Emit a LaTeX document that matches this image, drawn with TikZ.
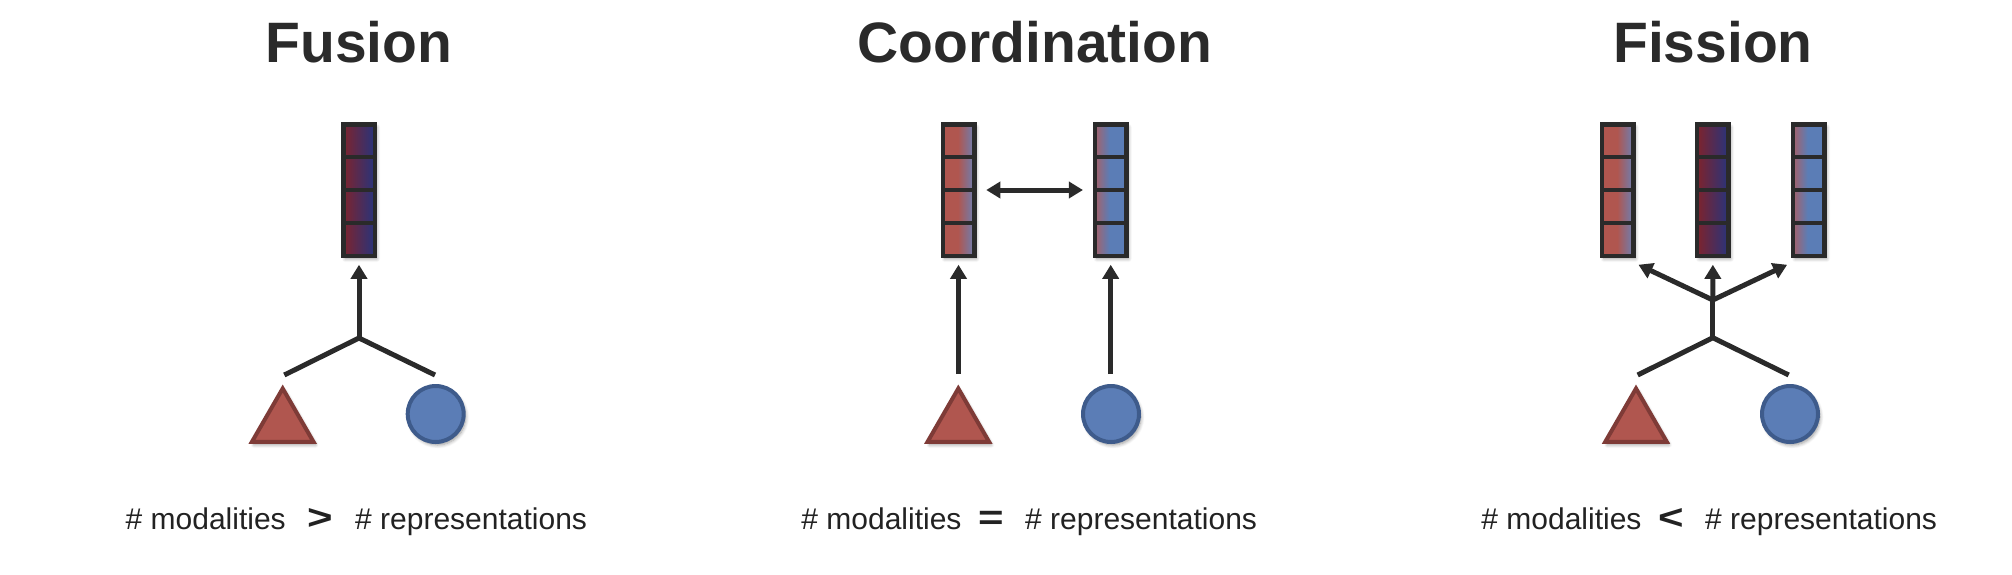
\documentclass[tikz,border=0pt]{standalone}
\usepackage{fontspec}
\usepackage{graphicx}
\setmainfont{Liberation Sans}
\usetikzlibrary{arrows.meta,shapes.geometric,shadows.blur,calc}
\definecolor{ink}{HTML}{2A2A2A}
\definecolor{txt}{HTML}{222222}
\definecolor{trifill}{HTML}{B0564F}
\definecolor{triline}{HTML}{7E3B37}
\definecolor{cirfill}{HTML}{5B7DB6}
\definecolor{cirline}{HTML}{3E5B8B}
\definecolor{dred}{HTML}{7A2430}
\definecolor{dblue}{HTML}{2B3378}
\definecolor{mred}{HTML}{B0564F}
\definecolor{mblue}{HTML}{5B7DB6}
\definecolor{pblue}{HTML}{6C7FB2}
\definecolor{rblue}{HTML}{A4616A}
\pgfdeclarehorizontalshading{fused}{100bp}{color(0bp)=(dred); color(27bp)=(dred); color(73bp)=(dblue); color(100bp)=(dblue)}
\pgfdeclarehorizontalshading{redish}{100bp}{color(0bp)=(mred); color(49bp)=(mred); color(75bp)=(pblue); color(100bp)=(pblue)}
\pgfdeclarehorizontalshading{blueish}{100bp}{color(0bp)=(rblue); color(25bp)=(rblue); color(48bp)=(mblue); color(100bp)=(mblue)}
\newcommand{\widesym}[1]{\scalebox{1.25}[1.0]{#1}}
\tikzset{
  shad/.style={blur shadow={shadow xshift=2pt, shadow yshift=-3pt, shadow blur radius=3.5pt, shadow blur steps=6, shadow opacity=40}},
  vec/.style={draw=ink, line width=4.5pt, minimum width=31.5pt, minimum height=131.5pt, inner sep=0pt, outer sep=0pt, shad,
    path picture={\foreach \k in {1,2,3}{\draw[ink, line width=4.5pt] ([yshift=-\k*32.875pt]path picture bounding box.north west) -- ([yshift=-\k*32.875pt]path picture bounding box.north east);}}},
  tri/.style={regular polygon, regular polygon sides=3, minimum size=71pt, inner sep=0pt, outer sep=0pt, draw=triline, fill=trifill, line width=4pt, shad},
  cir/.style={circle, minimum size=56pt, inner sep=0pt, outer sep=0pt, draw=cirline, fill=cirfill, line width=4pt, shad},
  link/.style={draw=ink, line width=5pt, line join=miter},
  arr/.style={draw=ink, line width=5pt, -{Triangle[length=14pt, width=16pt]}},
  arrb/.style={draw=ink, line width=5pt, {Triangle[length=14pt, width=16pt]}-{Triangle[length=14pt, width=16pt]}},
  title/.style={anchor=base, inner sep=0pt, text=ink, font=\fontsize{57}{60}\selectfont\bfseries},
  lab/.style={inner sep=0pt, text=txt, font=\fontsize{30}{34}\selectfont},
  sym/.style={anchor=base, inner sep=0pt, text=txt, font=\fontsize{35}{37}\selectfont\bfseries},
}
\begin{document}
\begin{tikzpicture}[x=1pt, y=-1pt]
\useasboundingbox (0,0) rectangle (2012,574);
% ---------- Fusion ----------
\node[title] (tfu) at (359,62) {Fusion};
\node[vec, shade, shading=fused] (fuV) at (359,190) {};
\node[tri] (fuT) at (282.7,424) {};
\node[cir] (fuC) at (435.7,414) {};
\coordinate (fuJ) at (359,338);
\coordinate (fuA) at (284.3,375);
\coordinate (fuB) at (435,375);
\draw[link] (fuA) -- (fuJ) -- (fuB);
\draw[arr, shorten >=9pt] (fuJ) -- (fuV);
\node[lab, anchor=base east] (fuM) at (286,529) {\# modalities};
\node[sym] (fuS) at (320,529) {\widesym{>}};
\node[lab, anchor=base west] (fuR) at (355,529) {\# representations};
% ---------- Coordination ----------
\node[title] (tco) at (1035,62) {Coordination};
\node[vec, shade, shading=redish] (coL) at (958.5,190) {};
\node[vec, shade, shading=blueish] (coR) at (1110.7,190) {};
\node[tri] (coT) at (958.3,424) {};
\node[cir] (coC) at (1111,414) {};
\coordinate (coA) at (958.5,374);
\coordinate (coB) at (1110.7,374);
\draw[arr, shorten >=9pt] (coA) -- (coL);
\draw[arr, shorten >=9pt] (coB) -- (coR);
\draw[arrb, shorten <=12pt, shorten >=12pt] (coL) -- (coR);
\node[lab, anchor=base east] (coM) at (961.7,529) {\# modalities};
\node[sym] (coS) at (991.7,529) {\widesym{=}};
\node[lab, anchor=base west] (coR2) at (1025,529) {\# representations};
% ---------- Fission ----------
\node[title] (tfi) at (1713,62) {Fission};
\node[vec, shade, shading=redish] (fiL) at (1617.7,190) {};
\node[vec, shade, shading=fused] (fiM) at (1712.9,190) {};
\node[vec, shade, shading=blueish] (fiR) at (1808.9,190) {};
\node[tri] (fiT) at (1636,424) {};
\node[cir] (fiC) at (1790,414) {};
\coordinate (fiJ) at (1712.8,337.7);
\coordinate (fiK) at (1712.8,300);
\coordinate (fiA) at (1637.7,375);
\coordinate (fiB) at (1788.7,375);
\draw[link] (fiA) -- (fiJ) -- (fiB);
\draw[link] (fiJ) -- (fiK);
\draw[arr, shorten >=9pt] (fiK) -- (fiM);
\draw[arr] (fiK) -- ($(fiL.south east)+(5,9)$);
\draw[arr] (fiK) -- ($(fiR.south west)+(-6,9)$);
\node[lab, anchor=base east] (fiMo) at (1641.7,529) {\# modalities};
\node[sym] (fiS) at (1671.7,529) {\widesym{<}};
\node[lab, anchor=base west] (fiRe) at (1705,529) {\# representations};
\end{tikzpicture}
\end{document}
